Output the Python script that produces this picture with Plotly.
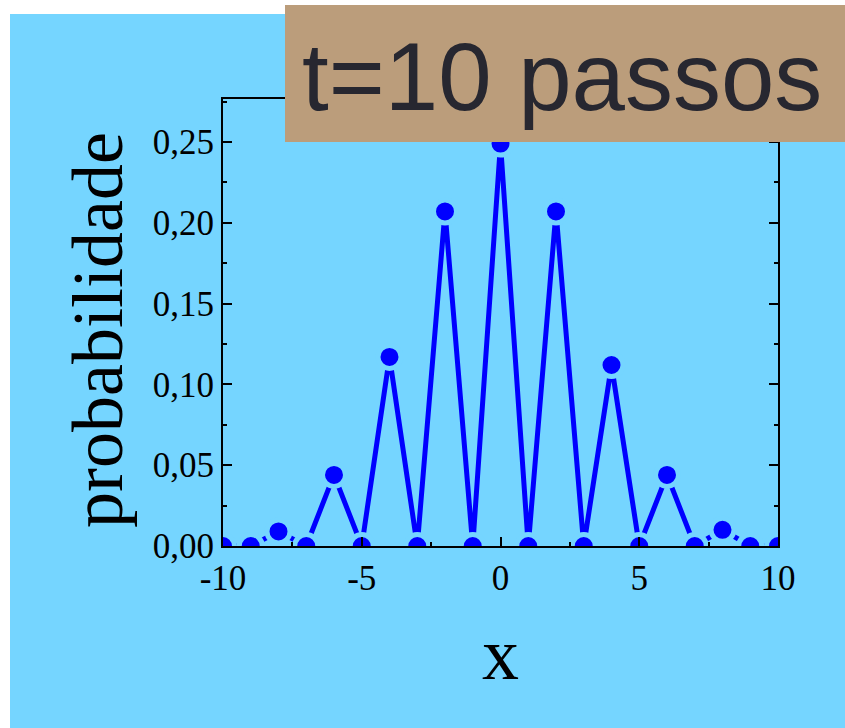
import plotly.graph_objects as go

x_pos = list(range(-10, 11))
prob = [0.0, 0.0, 0.009, 0.0, 0.044, 0.0, 0.117, 0.0, 0.207, 0.0, 0.249,
        0.0, 0.207, 0.0, 0.112, 0.0, 0.044, 0.0, 0.010, 0.0, 0.0]
x_tickvals = [-10, -5, 0, 5, 10]
x_ticktext = ["-10", "-5", "0", "5", "10"]
y_tickvals = [0.0, 0.05, 0.10, 0.15, 0.20, 0.25]
y_ticktext = ["0,00", "0,05", "0,10", "0,15", "0,20", "0,25"]
title_text = "t=10 passos"
y_title = "probabilidade"

BG = "#75D5FF"
TAN = "#BB9D7B"
W, H = 845, 728
L, R, T, B = 223, 67, 99, 182
pw, ph = W - L - R, H - T - B

def px(xp):
    return (xp - L) / pw

def py(yp):
    return (H - B - yp) / ph

fig = go.Figure()
fig.add_trace(go.Scatter(
    x=x_pos, y=prob, mode="lines+markers",
    line=dict(color="#0000FF", width=5),
    marker=dict(color="#0000FF", size=23, line=dict(color=BG, width=5)),
    showlegend=False,
))

axis_common = dict(
    showline=True, linecolor="black", linewidth=2, mirror="ticks",
    ticks="inside", ticklen=9, tickwidth=2, tickcolor="black",
    showgrid=False, zeroline=False,
    tickfont=dict(family="Liberation Serif", size=35, color="black"),
)

fig.update_xaxes(
    range=[-10, 10], tickvals=x_tickvals, ticktext=x_ticktext,
    minor=dict(ticks="inside", ticklen=4, tickwidth=2, tickcolor="black", dtick=2.5, tick0=-10),
    title=dict(text="x", font=dict(family="Liberation Serif", size=74, color="black"), standoff=30),
    **axis_common,
)
fig.update_yaxes(
    range=[0, 0.2766], tickvals=y_tickvals, ticktext=y_ticktext,
    minor=dict(ticks="inside", ticklen=4, tickwidth=2, tickcolor="black", dtick=0.025, tick0=0),
    **axis_common,
)

shapes = [
    dict(type="rect", xref="paper", yref="paper", x0=px(-5), x1=px(W + 5), y0=py(14), y1=py(-5),
         fillcolor="white", line=dict(width=0), layer="below"),
    dict(type="rect", xref="paper", yref="paper", x0=px(-5), x1=px(10), y0=py(H + 5), y1=py(-5),
         fillcolor="white", line=dict(width=0), layer="below"),
    dict(type="rect", xref="paper", yref="paper", x0=px(285), x1=px(W + 5), y0=py(142), y1=py(5),
         fillcolor=TAN, line=dict(width=0), layer="above"),
]

fig.update_layout(
    width=W, height=H, margin=dict(l=L, r=R, t=T, b=B, autoexpand=False),
    paper_bgcolor=BG, plot_bgcolor=BG,
    shapes=shapes,
    annotations=[
        dict(text=title_text, xref="paper", yref="paper", x=px(562), y=py(77),
             xanchor="center", yanchor="middle", showarrow=False,
             font=dict(family="Liberation Sans", size=96, color="#272730")),
        dict(text=y_title, xref="paper", yref="paper", x=px(98), y=py(330),
             xanchor="center", yanchor="middle", showarrow=False, textangle=-90,
             font=dict(family="Liberation Serif", size=72, color="black")),
    ],
)

fig.write_html("out.html")
